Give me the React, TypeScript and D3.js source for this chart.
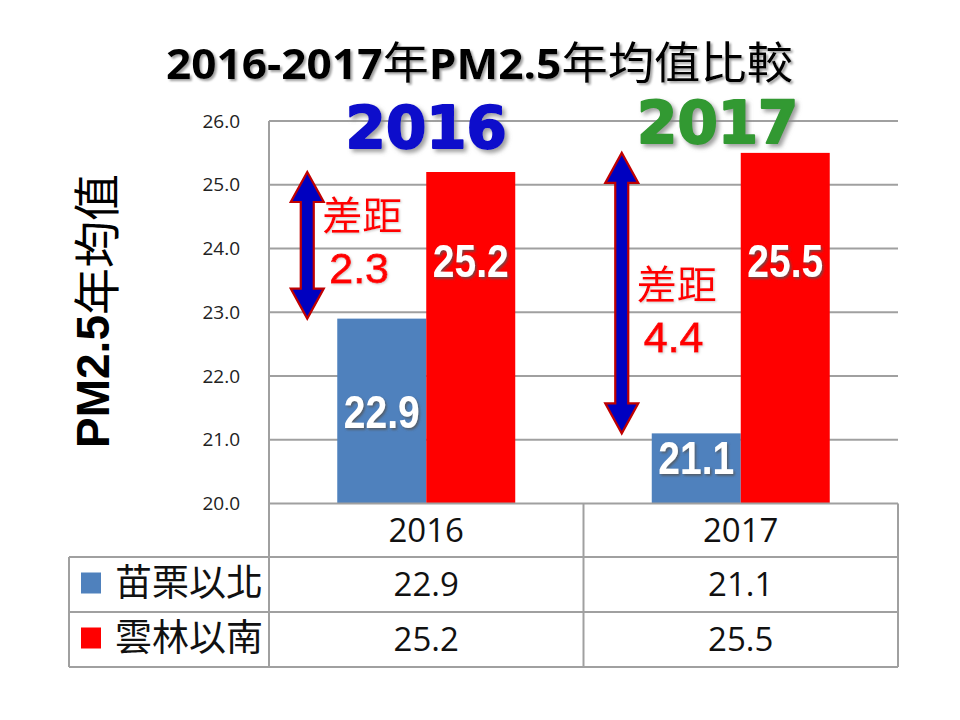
import React from 'react';
import * as d3 from 'd3';

// ---- data ----
const years = ['2016', '2017'];
const seriesNames = ['苗栗以北', '雲林以南'];
const northValues = [22.9, 21.1];
const southValues = [25.2, 25.5];
const yTicks = [20, 21, 22, 23, 24, 25, 26];
const titleParts = [
  { t: '2016-2017', latin: true },
  { t: '年', latin: false },
  { t: 'PM2.5', latin: true },
  { t: '年均值比較', latin: false },
];
const yTitleLatin = 'PM2.5';
const yTitleCjk = '年均值';
const gapWord = '差距';

// ---- layout constants (not data) ----
const W = 960;
const H = 720;
const plotLeft = 269;
const plotRight = 898;
const plotTop = 121;
const plotBottom = 503.5;
const tableLeft = 69;
const rowBottoms = [557, 612, 667];
const seriesColors = ['#4F81BD', '#FF0000'];
const yearLabelColors = ['#0A0ACB', '#339933'];
const yearLabelDx = [0, -23];
const yearLabelBaseline = [148, 143];
const gapLabelDy = [-15, 6];
// value-axis height where each bar's label is centered (manual placements)
const northLabelAt = [21.44, 20.73];
const southLabelAt = [23.82, 23.82];

const y = d3.scaleLinear().domain([20, 26]).range([plotBottom, plotTop]);
const x0 = d3.scaleBand<string>().domain(years).range([plotLeft, plotRight]);
const x1 = d3
  .scaleBand<string>()
  .domain(seriesNames)
  .range([0, x0.bandwidth()])
  .paddingInner(0)
  .paddingOuter(0.767);

const LATIN = "'Liberation Sans', Arial, sans-serif";
const CJK = "'Noto Sans CJK TC', 'Noto Sans CJK SC', sans-serif";
const TABLE_LATIN = "'Open Sans', sans-serif";

function arrowPath(x: number, yTop: number, yBot: number) {
  const sw = 6.5;
  const hw = 16.5;
  const hl = 30;
  return [
    `M${x},${yTop}`,
    `L${x + hw},${yTop + hl}`,
    `L${x + sw},${yTop + hl}`,
    `L${x + sw},${yBot - hl}`,
    `L${x + hw},${yBot - hl}`,
    `L${x},${yBot}`,
    `L${x - hw},${yBot - hl}`,
    `L${x - sw},${yBot - hl}`,
    `L${x - sw},${yTop + hl}`,
    `L${x - hw},${yTop + hl}`,
    'Z',
  ].join(' ');
}

function BarLabel({ cx, cy, text }: { cx: number; cy: number; text: string }) {
  const fs = 39;
  return (
    <g transform={`translate(${cx},${cy}) scale(1,1.2)`}>
      <text
        textAnchor="middle"
        y={fs * 0.358}
        fontFamily={LATIN}
        fontWeight="bold"
        fontSize={fs}
        fill="#fff"
        filter="url(#shLabel)"
      >
        {text}
      </text>
    </g>
  );
}

export default function App() {
  const series = [northValues, southValues];
  const labelAt = [northLabelAt, southLabelAt];
  const rowCenters = [
    (plotBottom + rowBottoms[0]) / 2,
    (rowBottoms[0] + rowBottoms[1]) / 2,
    (rowBottoms[1] + rowBottoms[2]) / 2,
  ];
  const gridColor = '#A0A0A0';
  return (
    <svg
      width={W}
      height={H}
      viewBox={`0 0 ${W} ${H}`}
      style={{ position: 'absolute', left: 0, top: 0, background: '#fff' }}
    >
      <defs>
        <filter id="shTitle" x="-10%" y="-30%" width="120%" height="160%">
          <feDropShadow dx="2" dy="2" stdDeviation="1.2" floodColor="#777" floodOpacity="0.7" />
        </filter>
        <filter id="shYear" x="-10%" y="-30%" width="130%" height="170%">
          <feDropShadow dx="3" dy="3" stdDeviation="2" floodColor="#888" floodOpacity="0.8" />
        </filter>
        <filter id="shLabel" x="-10%" y="-30%" width="130%" height="170%">
          <feDropShadow dx="1.5" dy="1.5" stdDeviation="1" floodColor="#555" floodOpacity="0.8" />
        </filter>
        <filter id="shRed" x="-10%" y="-30%" width="130%" height="170%">
          <feDropShadow dx="1" dy="1" stdDeviation="1" floodColor="#aaa" floodOpacity="0.6" />
        </filter>
      </defs>
      <rect x={0} y={0} width={W} height={H} fill="#fff" />

      {/* title */}
      <text
        x={166}
        y={79}
        textLength={627}
        lengthAdjust="spacingAndGlyphs"
        filter="url(#shTitle)"
        fill="#000"
      >
        {titleParts.map((p, i) => (
          <tspan
            key={i}
            fontFamily={p.latin ? TABLE_LATIN : CJK}
            fontWeight={p.latin ? 700 : 400}
            fontSize={p.latin ? 42 : 44}
          >
            {p.t}
          </tspan>
        ))}
      </text>

      {/* gridlines */}
      {yTicks
        .filter((t) => t > 20)
        .map((t) => (
          <line
            key={t}
            x1={plotLeft}
            x2={plotRight}
            y1={y(t)}
            y2={y(t)}
            stroke={gridColor}
            strokeWidth={2}
          />
        ))}

      {/* tick labels */}
      {yTicks.map((t) => (
        <text
          key={t}
          x={240}
          y={y(t) + 6.5}
          textAnchor="end"
          fontFamily={TABLE_LATIN}
          fontSize={19}
          fill="#222"
        >
          {d3.format('.1f')(t)}
        </text>
      ))}

      {/* y-axis title */}
      <text
        transform={`translate(${93},${311}) rotate(-90)`}
        textAnchor="middle"
        dominantBaseline="central"
        fill="#000"
      >
        <tspan fontFamily={LATIN} fontWeight="bold" fontSize={46}>
          {yTitleLatin}
        </tspan>
        <tspan fontFamily={CJK} fontWeight={400} fontSize={47}>
          {yTitleCjk}
        </tspan>
      </text>

      {/* year labels */}
      {years.map((yr, i) => (
        <text
          key={yr}
          x={(x0(yr) as number) + x0.bandwidth() / 2 + yearLabelDx[i]}
          y={yearLabelBaseline[i]}
          textAnchor="middle"
          fontFamily="'DejaVu Sans', sans-serif"
          fontWeight="bold"
          fontSize={58}
          fill={yearLabelColors[i]}
          stroke={yearLabelColors[i]}
          strokeWidth={2}
          strokeLinejoin="round"
          filter="url(#shYear)"
        >
          {yr}
        </text>
      ))}

      {/* bars */}
      {years.map((yr, i) =>
        seriesNames.map((s, j) => {
          const v = series[j][i];
          const bx = (x0(yr) as number) + (x1(s) as number);
          return (
            <rect
              key={yr + s}
              x={bx}
              y={y(v)}
              width={x1.bandwidth()}
              height={plotBottom - y(v)}
              fill={seriesColors[j]}
            />
          );
        })
      )}

      {/* bar value labels */}
      {years.map((yr, i) =>
        seriesNames.map((s, j) => {
          const v = series[j][i];
          const cx = (x0(yr) as number) + (x1(s) as number) + x1.bandwidth() / 2;
          return <BarLabel key={yr + s} cx={cx} cy={y(labelAt[j][i])} text={d3.format('.1f')(v)} />;
        })
      )}

      {/* gap arrows and labels */}
      {years.map((yr, i) => {
        const ax = (x0(yr) as number) + (x1(seriesNames[0]) as number) - 30;
        const yTop = y(southValues[i]);
        const yBot = y(northValues[i]);
        const mid = (yTop + yBot) / 2 + gapLabelDy[i];
        const gap = southValues[i] - northValues[i];
        return (
          <g key={yr}>
            <path d={arrowPath(ax, yTop, yBot)} fill="#0000C0" stroke="#C00000" strokeWidth={2.2} strokeLinejoin="miter" />
            <text
              x={ax + 15}
              y={mid}
              fontFamily={CJK}
              fontSize={40}
              fill="#FF0000"
              filter="url(#shRed)"
            >
              {gapWord}
            </text>
            <text
              x={ax + 22}
              y={mid + 53}
              fontFamily={LATIN}
              fontSize={43}
              fill="#FF0000"
              stroke="#FF0000"
              strokeWidth={0.8}
              filter="url(#shRed)"
            >
              {d3.format('.1f')(gap)}
            </text>
          </g>
        );
      })}

      {/* data table */}
      <g stroke={gridColor} strokeWidth={2} fill="none">
        <line x1={plotLeft} x2={plotRight} y1={plotBottom} y2={plotBottom} />
        <line x1={tableLeft} x2={plotRight} y1={rowBottoms[0]} y2={rowBottoms[0]} />
        <line x1={tableLeft} x2={plotRight} y1={rowBottoms[1]} y2={rowBottoms[1]} />
        <line x1={tableLeft} x2={plotRight} y1={rowBottoms[2]} y2={rowBottoms[2]} />
        <line x1={tableLeft} x2={tableLeft} y1={rowBottoms[0]} y2={rowBottoms[2]} />
        <line x1={plotLeft} x2={plotLeft} y1={plotTop} y2={rowBottoms[2]} />
        {years.map((yr) => {
          const xr = (x0(yr) as number) + x0.bandwidth();
          return <line key={yr} x1={xr} x2={xr} y1={plotBottom} y2={rowBottoms[2]} />;
        })}
      </g>

      {years.map((yr) => (
        <text
          key={yr}
          x={(x0(yr) as number) + x0.bandwidth() / 2}
          y={rowCenters[0] + 11.5}
          textAnchor="middle"
          fontFamily={TABLE_LATIN}
          fontSize={33}
          fill="#111"
        >
          {yr}
        </text>
      ))}

      {seriesNames.map((s, j) => (
        <g key={s}>
          <rect x={81} y={rowCenters[j + 1] - 12} width={20} height={21} fill={seriesColors[j]} />
          <text x={115} y={rowCenters[j + 1] + 11} fontFamily={CJK} fontSize={37} fill="#111">
            {s}
          </text>
          {years.map((yr, i) => (
            <text
              key={yr}
              x={(x0(yr) as number) + x0.bandwidth() / 2}
              y={rowCenters[j + 1] + 11.5}
              textAnchor="middle"
              fontFamily={TABLE_LATIN}
              fontSize={33}
              fill="#111"
            >
              {d3.format('.1f')(series[j][i])}
            </text>
          ))}
        </g>
      ))}
    </svg>
  );
}
